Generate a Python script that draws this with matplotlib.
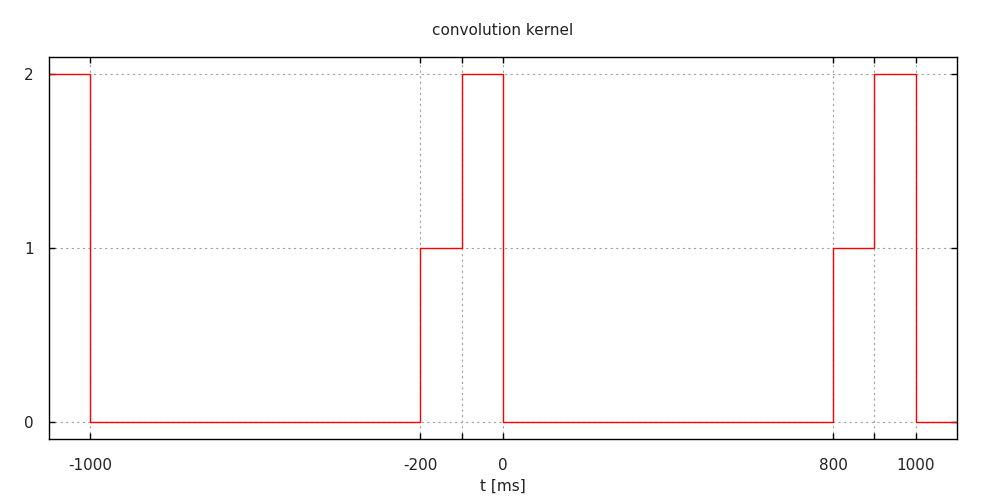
import matplotlib
matplotlib.use("Agg")
import matplotlib.pyplot as plt
import numpy as np

# kernel segments: value holds from edge[i] to edge[i+1]
edges = [-1100, -1000, -200, -100, 0, 800, 900, 1000, 1100]
values = [2, 0, 1, 2, 0, 1, 2, 0]

xticks = [-1000, -200, -100, 0, 800, 900, 1000]
xtick_labels = ["-1000", "-200", "", "0", "800", "", "1000"]
yticks = [0, 1, 2]

fig = plt.figure(figsize=(10, 5), dpi=100)
ax = fig.add_axes([0.049, 0.122, 0.908, 0.764])

ax.step(edges, values + [values[-1]], where="post", color="red", lw=1)

ax.set_xlim(-1100, 1100)
ax.set_ylim(-0.1, 2.1)
ax.set_xticks(xticks)
ax.set_xticklabels(xtick_labels)
ax.set_yticks(yticks)
ax.grid(True, color="#a0a0a0", linestyle=(0, (2, 3)), lw=0.8)
ax.tick_params(direction="in", top=True, right=True, length=4.5, width=1,
               labelsize=11, colors="black", labelcolor="#222222")
ax.tick_params(axis="x", pad=14)
ax.tick_params(axis="y", pad=11)
for s in ax.spines.values():
    s.set_linewidth(1)

ax.set_title("convolution kernel", fontsize=11, color="#222222", pad=16)
ax.set_xlabel("t [ms]", fontsize=11, color="#222222", labelpad=4)

plt.savefig("out.png", dpi=100)
